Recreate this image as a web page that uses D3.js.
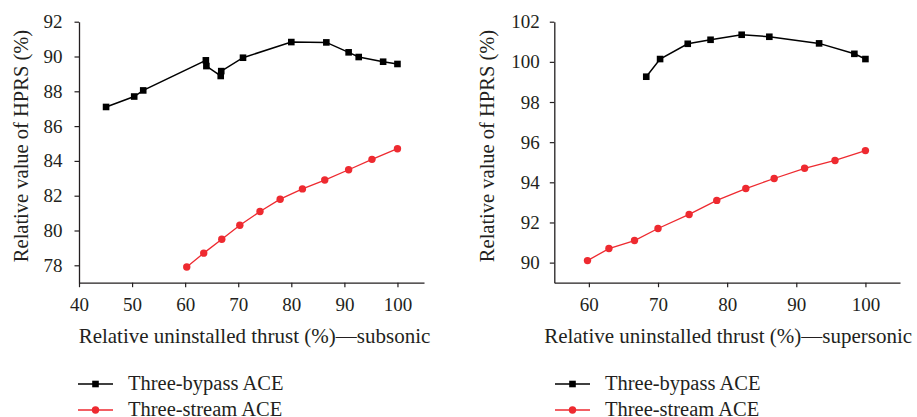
<!DOCTYPE html>
<html><head><meta charset="utf-8">
<script src="https://cdn.jsdelivr.net/npm/d3@7"></script>
<style>body{margin:0;background:#fff}svg{display:block}</style>
</head><body>
<script>
// Subsonic panel data
const subBypassX = [45.1, 50.4, 52.1, 63.9, 64.0, 66.7, 66.8, 70.9, 80.0, 86.6, 90.8, 92.7, 97.3, 100.0];
const subBypassY = [87.1, 87.7, 88.05, 89.78, 89.45, 88.88, 89.16, 89.93, 90.83, 90.81, 90.24, 89.97, 89.70, 89.57];
const subStreamX = [60.3, 63.5, 66.9, 70.3, 74.1, 77.9, 82.1, 86.3, 90.8, 95.2, 100.0];
const subStreamY = [77.9, 78.7, 79.5, 80.3, 81.09, 81.8, 82.39, 82.9, 83.49, 84.09, 84.7];
// Supersonic panel data
const supBypassX = [68.3, 70.3, 74.3, 77.6, 82.1, 86.1, 93.3, 98.4, 100.0];
const supBypassY = [99.26, 100.14, 100.9, 101.1, 101.35, 101.25, 100.92, 100.4, 100.14];
const supStreamX = [59.8, 62.9, 66.6, 70.0, 74.5, 78.5, 82.7, 86.8, 91.2, 95.6, 100.0];
const supStreamY = [90.1, 90.7, 91.1, 91.7, 92.4, 93.1, 93.69, 94.19, 94.7, 95.09, 95.58];
// Ticks
const subXTicks = [40, 50, 60, 70, 80, 90, 100];
const subXMinor = [45, 55, 65, 75, 85, 95, 105];
const subYTicks = [78, 80, 82, 84, 86, 88, 90, 92];
const subYMinor = [77, 79, 81, 83, 85, 87, 89, 91];
const supXTicks = [60, 70, 80, 90, 100];
const supXMinor = [55, 65, 75, 85, 95, 105];
const supYTicks = [90, 92, 94, 96, 98, 100, 102];
const supYMinor = [89, 91, 93, 95, 97, 99, 101];
const seriesNames = ["Three-bypass ACE", "Three-stream ACE"];
const xTitles = ["Relative uninstalled thrust (%)\u2014subsonic", "Relative uninstalled thrust (%)\u2014supersonic"];
const yTitle = "Relative value of HPRS (%)";

const FONT = "'Liberation Serif', 'Times New Roman', serif";
const INK = "#231f20";
const BLACK = "#000", RED = "#ee2a30";
const svg = d3.select("body").append("svg").attr("width", 917).attr("height", 417)
  .attr("font-family", FONT);

function txt(sel, size) {
  return sel.attr("font-family", FONT).style("font-family", FONT).attr("font-size", size).attr("fill", INK);
}

function panel(cfg) {
  const x = d3.scaleLinear().domain(cfg.xDom).range(cfg.xRange);
  const y = d3.scaleLinear().domain(cfg.yDom).range([282.7, 21.7]);
  const g = svg.append("g");
  const ax = g.append("g").attr("transform", `translate(0,${y.range()[0]})`);
  ax.call(d3.axisBottom(x).tickValues(cfg.xMinor).tickSize(2.5).tickSizeOuter(0).tickFormat(""));
  ax.call(d3.axisBottom(x).tickValues(cfg.xTicks).tickSize(4.5).tickSizeOuter(0).tickPadding(10.5).tickFormat(d3.format("d")));
  const ay = g.append("g").attr("transform", `translate(${x.range()[0]},0)`);
  ay.call(d3.axisLeft(y).tickValues(cfg.yMinor).tickSize(2.5).tickSizeOuter(0).tickFormat(""));
  ay.call(d3.axisLeft(y).tickValues(cfg.yTicks).tickSize(4.5).tickSizeOuter(0).tickPadding(cfg.yPad).tickFormat(d3.format("d")));
  ax.attr("font-family", FONT); ay.attr("font-family", FONT);
  g.selectAll(".domain").attr("stroke", INK).attr("stroke-width", 1.3);
  g.selectAll(".tick line").attr("stroke", INK).attr("stroke-width", 1.2);
  txt(g.selectAll(".tick text"), 19);

  const line = d3.line().x(d => x(d[0])).y(d => y(d[1]));
  const b = cfg.bx.map((v, i) => [v, cfg.by[i]]);
  const s = cfg.sx.map((v, i) => [v, cfg.sy[i]]);
  g.append("path").datum(b).attr("d", line).attr("fill", "none").attr("stroke", BLACK).attr("stroke-width", 1.5);
  g.selectAll(".sq").data(b).enter().append("rect")
    .attr("x", d => x(d[0]) - 3.3).attr("y", d => y(d[1]) - 3.3).attr("width", 6.6).attr("height", 6.6).attr("fill", BLACK);
  g.append("path").datum(s).attr("d", line).attr("fill", "none").attr("stroke", RED).attr("stroke-width", 1.3);
  g.selectAll(".ci").data(s).enter().append("circle")
    .attr("cx", d => x(d[0])).attr("cy", d => y(d[1])).attr("r", 3.7).attr("fill", RED);

  // Titles
  const xc = (x.range()[0] + x.range()[1]) / 2;
  txt(g.append("text"), 21).attr("x", xc + cfg.xTitleShift).attr("y", 343).attr("text-anchor", "middle").text(cfg.xTitle);
  txt(g.append("text"), 20.5).attr("transform", `translate(${cfg.yTitleX},146) rotate(-90)`).attr("text-anchor", "middle").text(yTitle);

  // Legend
  const lx = cfg.legX;
  [[BLACK, "sq"], [RED, "ci"]].forEach((m, i) => {
    const cy = 384 + i * 26;
    g.append("line").attr("x1", lx).attr("x2", lx + 35).attr("y1", cy).attr("y2", cy).attr("stroke", m[0]).attr("stroke-width", 1.5);
    if (m[1] === "sq") g.append("rect").attr("x", lx + 17.5 - 3.3).attr("y", cy - 3.3).attr("width", 6.6).attr("height", 6.6).attr("fill", m[0]);
    else g.append("circle").attr("cx", lx + 17.5).attr("cy", cy).attr("r", 3.7).attr("fill", m[0]);
    txt(g.append("text"), 20.5).attr("x", lx + 50).attr("y", cy + 5.5).text(seriesNames[i]);
  });
}

panel({xDom: [40, 105], xRange: [79, 424], yDom: [77, 92], xTicks: subXTicks, xMinor: subXMinor, yTicks: subYTicks, yMinor: subYMinor,
  bx: subBypassX, by: subBypassY, sx: subStreamX, sy: subStreamY, xTitle: xTitles[0], xTitleShift: 3, yTitleX: 28, yPad: 12, legX: 78});
panel({xDom: [55, 105], xRange: [554.3, 900], yDom: [89, 102], xTicks: supXTicks, xMinor: supXMinor, yTicks: supYTicks, yMinor: supYMinor,
  bx: supBypassX, by: supBypassY, sx: supStreamX, sy: supStreamY, xTitle: xTitles[1], xTitleShift: 1, yTitleX: 494, yPad: 10, legX: 555});
</script>
</body></html>
